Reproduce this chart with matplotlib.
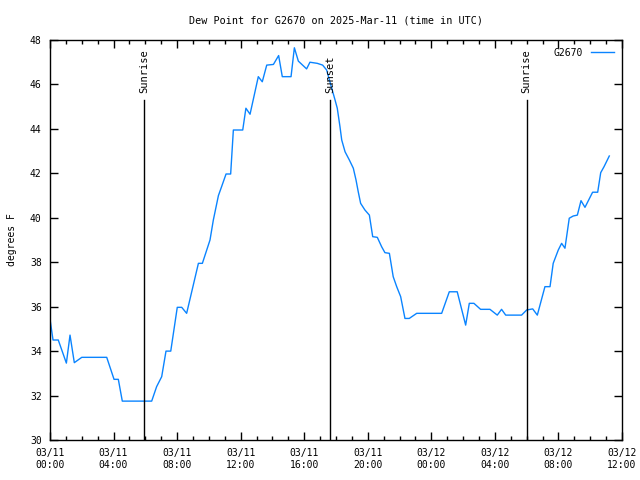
import pandas as pd
import matplotlib
matplotlib.use("Agg")
import matplotlib.pyplot as plt
import matplotlib.dates as mdates

# hours since 2025-03-11 00:00 UTC, dew point in F
hours = [0.0, 0.19, 0.52, 1.03, 1.26, 1.53, 2.0, 3.57, 4.03, 4.3, 4.55, 6.4,
         6.71, 7.03, 7.3, 7.6, 8.01, 8.29, 8.6, 9.34, 9.59, 10.07, 10.28, 10.6,
         10.8, 11.08, 11.37, 11.54, 12.13, 12.33, 12.59, 13.11, 13.36, 13.64,
         14.06, 14.39, 14.62, 15.17, 15.38, 15.63, 16.15, 16.36, 16.82, 17.16,
         17.41, 17.94, 18.08, 18.25, 18.36, 18.57, 18.84, 19.09, 19.26, 19.4,
         19.55, 19.82, 20.1, 20.31, 20.6, 20.87, 21.08, 21.36, 21.6, 21.82,
         22.07, 22.34, 22.61, 23.08, 24.65, 25.13, 25.63, 26.16, 26.39, 26.68,
         27.1, 27.69, 28.15, 28.42, 28.68, 29.68, 30.0, 30.38, 30.67, 31.15,
         31.47, 31.67, 31.99, 32.2, 32.41, 32.68, 32.93, 33.19, 33.42, 33.67,
         34.15, 34.47, 34.66, 34.87, 35.2]
dewpoint = [35.44, 34.5, 34.5, 33.46, 34.72, 33.48, 33.72, 33.72, 32.73, 32.73,
            31.75, 31.75, 32.4, 32.85, 34.0, 34.0, 35.97, 35.97, 35.7, 37.95,
            37.95, 39.0, 39.9, 41.0, 41.4, 41.97, 41.97, 43.95, 43.95, 44.93,
            44.66, 46.35, 46.12, 46.87, 46.9, 47.3, 46.35, 46.35, 47.65, 47.05,
            46.7, 47.0, 46.95, 46.87, 46.65, 45.3, 44.93, 44.1, 43.5, 42.97,
            42.6, 42.23, 41.7, 41.17, 40.65, 40.35, 40.12, 39.15, 39.12, 38.7,
            38.43, 38.4, 37.35, 36.9, 36.45, 35.47, 35.47, 35.7, 35.7, 36.67,
            36.67, 35.17, 36.15, 36.15, 35.88, 35.88, 35.62, 35.88, 35.62, 35.62,
            35.85, 35.9, 35.62, 36.9, 36.9, 37.95, 38.55, 38.85, 38.63, 39.98,
            40.08, 40.12, 40.77, 40.47, 41.15, 41.15, 42.03, 42.3, 42.78]

sun_labels = ["Sunrise", "Sunset", "Sunrise"]
sun_hours = [5.92, 17.62, 30.0]

base = pd.Timestamp("2025-03-11 00:00")
times = base + pd.to_timedelta(hours, unit="h")
sun_times = base + pd.to_timedelta(sun_hours, unit="h")

plt.rcParams["font.family"] = "DejaVu Sans Mono"
plt.rcParams["font.size"] = 7

fig = plt.figure(figsize=(6.4, 4.8), dpi=100)
ax = fig.add_axes([50 / 640, 40 / 480, 572 / 640, 400 / 480])

ax.plot(times, dewpoint, color="#0a84ff", lw=1.0, label="G2670")

# sunrise / sunset markers
for lab, t in zip(sun_labels, sun_times):
    ax.plot([t, t], [30, 45.3], color="black", lw=1.0)
    ax.text(t, 45.6, lab, rotation=90, ha="center", va="bottom", fontsize=7.5)

ax.set_xlim(base, base + pd.Timedelta(hours=36))
ax.set_ylim(30, 48)
ax.set_yticks(range(30, 49, 2))
ax.xaxis.set_major_locator(mdates.HourLocator(byhour=range(0, 24, 4)))
ax.xaxis.set_minor_locator(mdates.HourLocator())
ax.xaxis.set_major_formatter(mdates.DateFormatter("%m/%d\n%H:%M"))
ax.tick_params(which="both", direction="in", top=True, right=True,
               width=1.0, labelsize=7, pad=6)
ax.tick_params(which="major", length=6)
ax.tick_params(which="minor", length=3)
for s in ax.spines.values():
    s.set_linewidth(1.0)

ax.set_title("Dew Point for G2670 on 2025-Mar-11 (time in UTC)", fontsize=7.3, pad=12)
ax.set_ylabel("degrees F", fontsize=7, labelpad=9)
ax.legend(loc="upper right", frameon=False, fontsize=7, handlelength=2.4,
          borderaxespad=0.4, markerfirst=False)

fig.savefig("out.png", dpi=100)
